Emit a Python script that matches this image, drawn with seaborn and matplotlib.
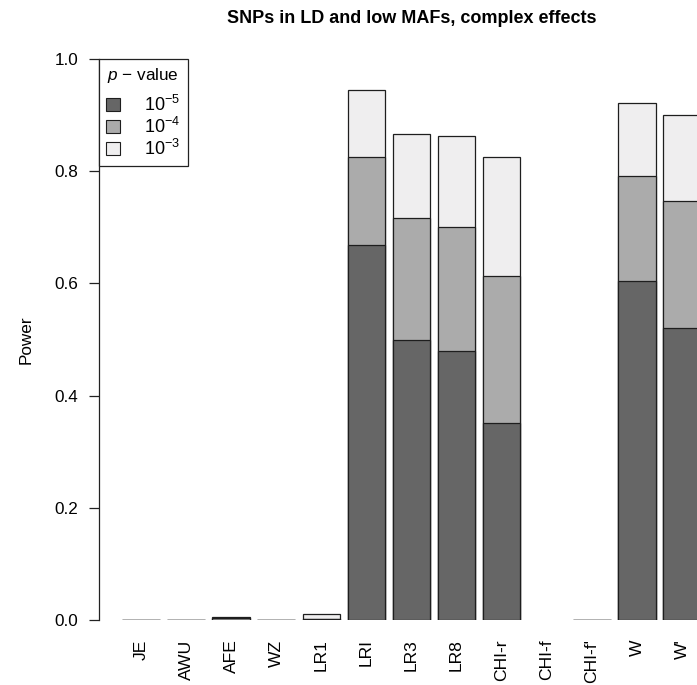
import numpy as np
import pandas as pd
import matplotlib
matplotlib.use("Agg")
import matplotlib.pyplot as plt
from matplotlib.patches import Patch
import seaborn as sns

# ---- data ----
categories = ['JE', 'AWU', 'AFE', 'WZ', 'LR1', 'LRI', 'LR3', 'LR8',
              'CHI-r', 'CHI-f', "CHI-f'", 'W', "W'"]
power_1e3 = [0.0, 0.0, 0.005, 0.0, 0.011, 0.945, 0.866, 0.862, 0.825, np.nan, 0.0, 0.922, 0.901]
power_1e4 = [0.0, 0.0, 0.003, 0.0, 0.002, 0.826, 0.717, 0.700, 0.613, np.nan, 0.0, 0.791, 0.746]
power_1e5 = [0.0, 0.0, 0.0, 0.0, 0.001, 0.668, 0.500, 0.480, 0.351, np.nan, 0.0, 0.605, 0.520]
legend_labels = [r'$10^{-5}$', r'$10^{-4}$', r'$10^{-3}$']
yticks = [0.0, 0.2, 0.4, 0.6, 0.8, 1.0]

colors = {'1e-5': '#666666', '1e-4': '#ABABAB', '1e-3': '#EFEEEF'}

plt.rcParams['font.family'] = ['Liberation Sans', 'DejaVu Sans']
plt.rcParams['mathtext.fontset'] = 'custom'
plt.rcParams['mathtext.rm'] = 'Liberation Sans'
plt.rcParams['mathtext.it'] = 'Liberation Sans:italic'
plt.rcParams['mathtext.bf'] = 'Liberation Sans:bold'

fig = plt.figure(figsize=(6.97, 6.85), dpi=100)
ax = fig.add_axes([99/697, 65/685, 625/697, 561/685])

edge = '#1e1e1e'
for vals, key in [(power_1e3, '1e-3'), (power_1e4, '1e-4'), (power_1e5, '1e-5')]:
    df = pd.DataFrame({'cat': categories, 'val': vals}).dropna()
    sns.barplot(data=df, x='cat', y='val', order=categories, color=colors[key],
                saturation=1, width=1/1.2, edgecolor=edge, linewidth=0.9,
                errorbar=None, ax=ax)

ax.set_xlim(-0.93, 12.93)
ax.set_ylim(0, 1.0)
ax.set_yticks(yticks)
ax.set_yticklabels([f'{t:.1f}' for t in yticks])
ax.set_xlabel('')
ax.set_ylabel('Power', fontsize=12.3)
ax.yaxis.set_label_coords(-0.105, 0.5)

for s in ['top', 'right', 'bottom']:
    ax.spines[s].set_visible(False)
ax.spines['left'].set_bounds(0, 1)
ax.spines['left'].set_linewidth(0.9)
ax.spines['left'].set_color('#222222')

ax.tick_params(axis='y', direction='out', length=7, width=0.9, pad=8,
               labelsize=12.3, color='#222222')
ax.tick_params(axis='x', length=0, pad=14, labelsize=12.6)
for lab in ax.get_xticklabels():
    lab.set_rotation(90)
    lab.set_va('top')
    lab.set_ha('center')

ax.set_title('SNPs in LD and low MAFs, complex effects', fontsize=13,
             fontweight='bold', pad=26)

handles = [Patch(facecolor=colors[k], edgecolor=edge, linewidth=0.8)
           for k in ['1e-5', '1e-4', '1e-3']]
leg = ax.legend(handles, legend_labels, title='$p$ \u2212 value',
                loc='upper left', bbox_to_anchor=(0, 1), borderaxespad=0,
                fontsize=13, title_fontsize=12.3, frameon=True, fancybox=False,
                framealpha=1, edgecolor='#222222', handlelength=0.75,
                handleheight=0.75, handletextpad=1.35, labelspacing=0.1,
                borderpad=0.4)
leg.get_frame().set_linewidth(0.9)
leg._legend_box.sep = 7

fig.savefig('out.png', dpi=100)
